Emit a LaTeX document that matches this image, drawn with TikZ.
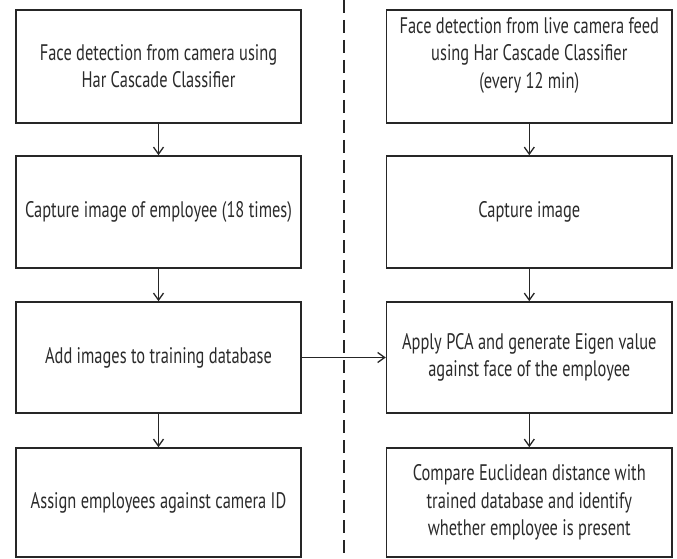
\documentclass[tikz,border=0pt]{standalone}
\usepackage{fontspec}
\setmainfont[FakeStretch=0.73]{PT Sans}
\usetikzlibrary{arrows.meta}
\definecolor{ink}{HTML}{262626}
\definecolor{txt}{HTML}{2B2B2B}
\tikzset{
  x=1pt, y=-1pt,
  stepbox/.style={draw=ink, line width=1.6pt, rectangle, minimum width=285.5pt,
    align=center, inner sep=0pt, text=txt,
    font=\fontsize{22.5}{27.5}\selectfont},
  flow/.style={draw=ink, line width=1.3pt, -{Straight Barb[length=7pt,width=10pt,line width=1.3pt]}},
  divider/.style={draw=ink, line width=1.3pt, dash pattern=on 13pt off 7pt}
}
\begin{document}
\begin{tikzpicture}
\useasboundingbox (0,0) rectangle (677,559);
\fill[white] (0,0) rectangle (677,559);
% left column
\node[stepbox, minimum height=112.7pt] (l1) at (158.5,66.4) {Face detection from camera using\\Har Cascade Classifier};
\node[stepbox, minimum height=112pt] (l2) at (158.5,212) {Capture image of employee (18 times)};
\node[stepbox, minimum height=111pt] (l3) at (158.5,357.5) {Add images to training database};
\node[stepbox, minimum height=109pt] (l4) at (158.5,502.5) {Assign employees against camera ID};
% right column
\node[stepbox, minimum height=112.7pt] (r1) at (529.3,66.4) {Face detection from live camera feed\\using Har Cascade Classifier\\(every 12 min)\\\mbox{}};
\node[stepbox, minimum height=112pt] (r2) at (529.3,212) {Capture image};
\node[stepbox, minimum height=111pt] (r3) at (529.3,357.5) {Apply PCA and generate Eigen value\\against face of the employee};
\node[stepbox, minimum height=109pt] (r4) at (529.3,502.5) {Compare Euclidean distance with\\trained database and identify\\whether employee is present};
% divider
\coordinate (dtop) at (344,0);
\coordinate (dbot) at (344,559);
\draw[divider] (dtop) -- (dbot);
% connectors
\draw[flow] (l1) -- (l2);
\draw[flow] (l2) -- (l3);
\draw[flow] (l3) -- (l4);
\draw[flow] (r1) -- (r2);
\draw[flow] (r2) -- (r3);
\draw[flow] (r3) -- (r4);
\draw[flow] (l3) -- (r3);
\end{tikzpicture}
\end{document}
